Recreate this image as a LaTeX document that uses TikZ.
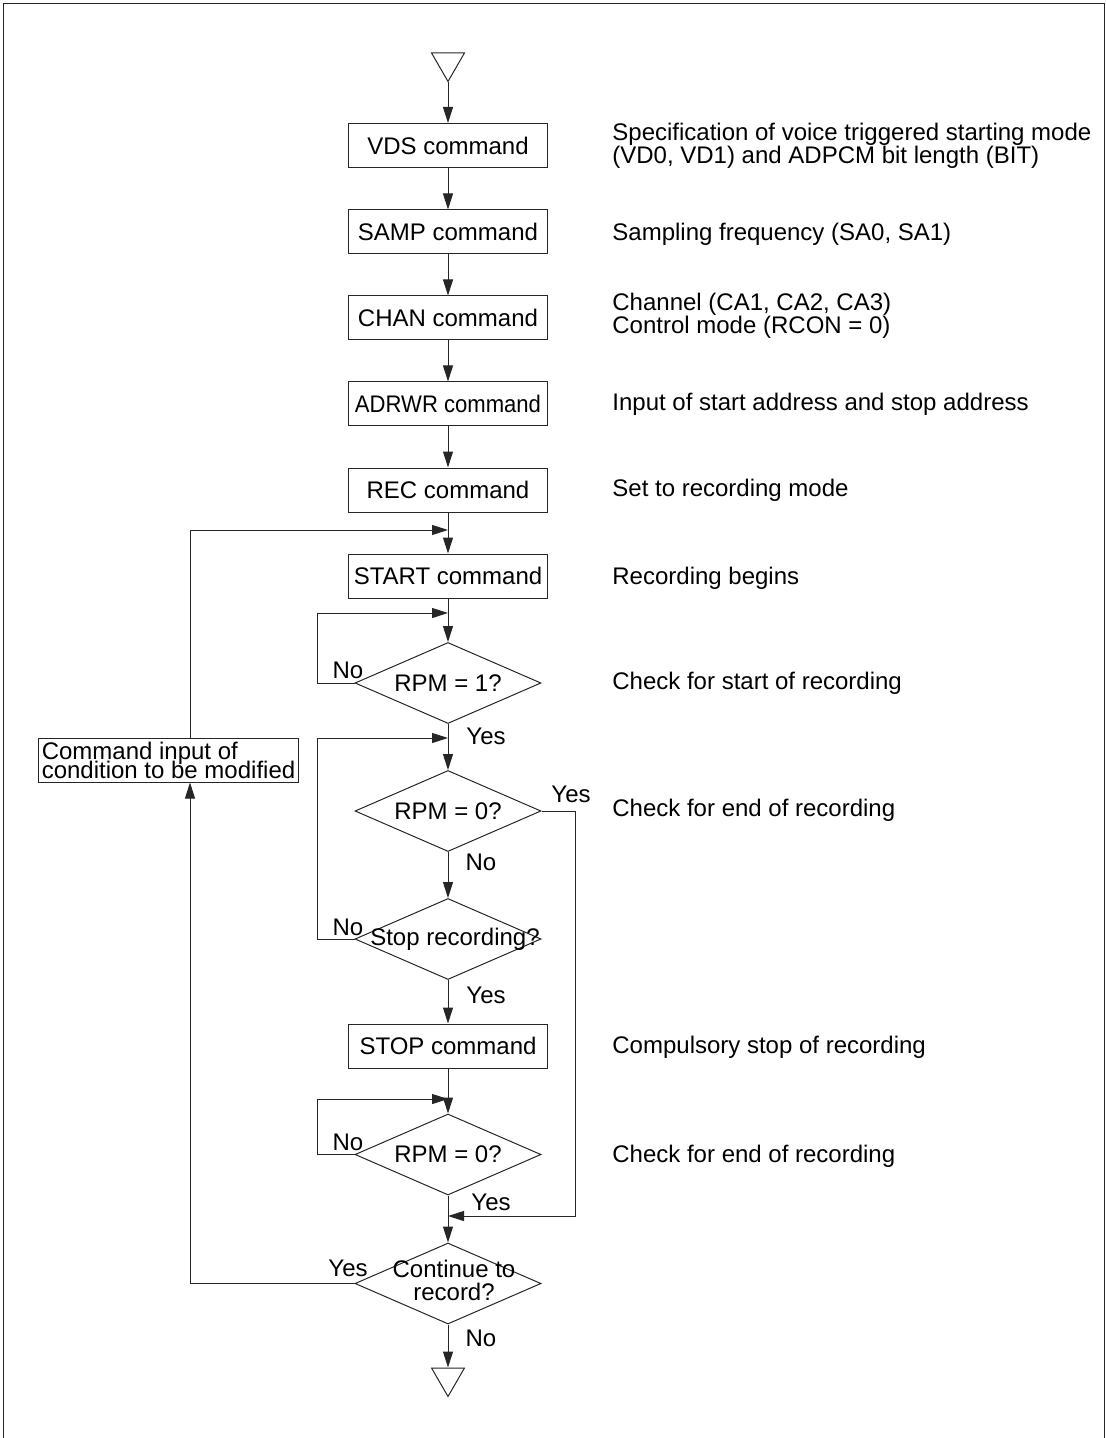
\documentclass[tikz,border=0pt]{standalone}
\usepackage{fontspec}
\setmainfont{Liberation Sans}
\usetikzlibrary{arrows.meta,shapes.geometric}
\newcommand\mytightlines{\setlength{\lineskiplimit}{-20pt}}
\begin{document}
\begin{tikzpicture}[x=0.5pt,y=-0.5pt,
 font=\fontsize{12}{11.5}\selectfont,
 line/.style={line width=0.5pt, draw=black!85},
 arr/.style={line, -{Triangle[length=8pt,width=5pt]}},
 cbox/.style={draw=black!85, line width=0.5pt, minimum width=99.5pt, minimum height=22pt, inner sep=0pt},
 dia/.style={diamond, draw=black!85, line width=0.5pt, minimum width=93pt, minimum height=40.5pt, inner sep=0pt},
 tri/.style={regular polygon, regular polygon sides=3, shape border rotate=180, draw=black!85, line width=0.5pt, minimum size=19pt, inner sep=0pt},
 desc/.style={anchor=west, align=left, inner sep=0pt},
 lbl/.style={inner sep=0pt}]
\useasboundingbox (0,0) rectangle (1106,1438);
% frame
\draw[line width=0.8pt, draw=black!85] (3.5,1438) -- (3.5,3.5) -- (1104.5,3.5) -- (1104.5,1438);

% main column
\node[tri] (tstart) at (448,62.5) {};
\node[cbox] (vds) at (448,145.5) {VDS command};
\node[cbox] (samp) at (448,232) {SAMP command};
\node[cbox] (chan) at (448,318) {CHAN command};
\node[cbox] (adrwr) at (448,404) {\scalebox{0.92}[1]{ADRWR command}};
\node[cbox] (rec) at (448,490) {REC command};
\node[cbox] (start) at (448,576) {START command};
\node[dia] (d1) at (448,683) {\makebox[0pt]{RPM = 1?}};
\node[dia] (d2) at (448,811) {\makebox[0pt]{RPM = 0?}};
\node[dia] (d3) at (448,939) {\makebox[0pt]{\hspace{7pt}Stop recording?}};
\node[cbox] (stop) at (448,1046) {STOP command};
\node[dia] (d4) at (448,1154.5) {\makebox[0pt]{RPM = 0?}};
\node[dia] (d5) at (448,1283.5) {\makebox[0pt]{\hspace{6pt}\fontsize{12}{10.5}\selectfont\begin{tabular}{@{}c@{}}Continue to\\record?\end{tabular}}};
\node[tri] (tend) at (448,1377.5) {};

\node[draw=black!85, line width=0.5pt, minimum height=22pt, minimum width=129.5pt, inner xsep=1.5pt, inner ysep=0pt, align=left,
      font=\fontsize{12}{9.5}\selectfont\mytightlines] (cmd) at (168.5,760) {Command input of\\condition to be modified};

% merge points
\coordinate (m0) at (448,530);
\coordinate (m1) at (448,613);
\coordinate (m2) at (448,738);
\coordinate (m4) at (448,1099);
\coordinate (m5) at (448,1216);
\coordinate (lx) at (190,530);
\coordinate (nx) at (317,0);
\coordinate (rx) at (575,0);

% column arrows
\draw[arr] (tstart.south) -- (vds.north);
\draw[arr] (vds) -- (samp);
\draw[arr] (samp) -- (chan);
\draw[arr] (chan) -- (adrwr);
\draw[arr] (adrwr) -- (rec);
\draw[arr] (rec) -- (start);
\draw[arr] (start) -- (d1);
\draw[arr] (d1) -- (d2);
\draw[arr] (d2) -- (d3);
\draw[arr] (d3) -- (stop);
\draw[arr] (stop) -- (d4);
\draw[arr] (d4) -- (d5);
\draw[arr] (d5.south) -- (tend.north);

% loops
\draw[arr] (d1.west) -- (d1.west -| nx) |- (m1);
\draw[arr] (d3.west) -- (d3.west -| nx) |- (m2);
\draw[arr] (d4.west) -- (d4.west -| nx) |- (m4);
\draw[arr] (d2.east) -- (d2.east -| rx) |- (m5);
\draw[arr] (d5.west) -- (d5.west -| lx) -- (lx |- cmd.south);
\draw[arr] (lx |- cmd.north) |- (m0);

% labels
\node[lbl] (ln1) at (348,670) {No};
\node[lbl] (ly1) at (486,736) {Yes};
\node[lbl] (ly2) at (571,794) {Yes};
\node[lbl] (ln2) at (481,862) {No};
\node[lbl] (ln3) at (348,927) {No};
\node[lbl] (ly3) at (486,995) {Yes};
\node[lbl] (ln4) at (348,1142) {No};
\node[lbl] (ly4) at (491,1202) {Yes};
\node[lbl] (ly5) at (348,1268) {Yes};
\node[lbl] (ln5) at (481,1338) {No};

% descriptions
\node[desc] (t1) at (612,146) {Specification of voice triggered starting mode\\(VD0, VD1) and ADPCM bit length (BIT)};
\node[desc] (t2) at (612,234) {Sampling frequency (SA0, SA1)};
\node[desc] (t3) at (612,316) {Channel (CA1, CA2, CA3)\\Control mode (RCON = 0)};
\node[desc] (t4) at (612,404) {Input of start address and stop address};
\node[desc] (t5) at (612,490) {Set to recording mode};
\node[desc] (t6) at (612,578) {Recording begins};
\node[desc] (t7) at (612,683) {Check for start of recording};
\node[desc] (t8) at (612,810) {Check for end of recording};
\node[desc] (t9) at (612,1047) {Compulsory stop of recording};
\node[desc] (t10) at (612,1156) {Check for end of recording};
\end{tikzpicture}
\end{document}
